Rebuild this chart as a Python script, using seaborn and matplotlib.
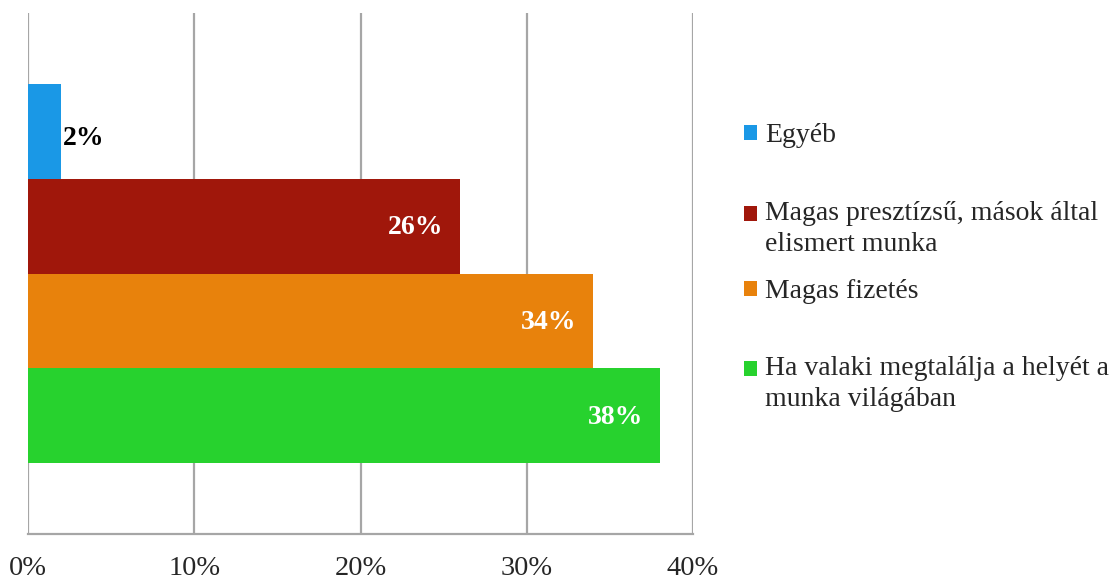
import matplotlib
matplotlib.use("Agg")
import matplotlib.pyplot as plt
import seaborn as sns
import pandas as pd
from matplotlib.patches import Patch, Rectangle
from matplotlib.legend_handler import HandlerPatch

categories = ["Egyéb",
              "Magas presztízsű, mások által\nelismert munka",
              "Magas fizetés",
              "Ha valaki megtalálja a helyét a\nmunka világában"]
values = [2, 26, 34, 38]
colors = ["#1a98e6", "#a0170b", "#e8820c", "#27d22e"]
xticks = [0, 10, 20, 30, 40]
xtick_labels = ["0%", "10%", "20%", "30%", "40%"]

sns.set_style("white")
plt.rcParams["font.family"] = ["Liberation Serif", "DejaVu Serif"]

df = pd.DataFrame({"cat": categories, "val": values})

fig = plt.figure(figsize=(11.1, 5.81), dpi=100)
ax = fig.add_axes([28 / 1110, 1 - 534 / 581, (693 - 28) / 1110, (534 - 13) / 581])

sns.barplot(data=df, x="val", y="cat", hue="cat", order=categories,
            hue_order=categories, palette=colors, width=1.0, dodge=False,
            legend=False, ax=ax, orient="h", saturation=1,
            edgecolor="none", linewidth=0)

ax.set_xlim(0, 40)
ax.set_ylim(len(categories) - 1 + 1.247, -1.247)
ax.set_xticks(xticks)
ax.set_xticklabels(xtick_labels, fontsize=20.5)
ax.set_yticks([])
ax.set_xlabel("")
ax.set_ylabel("")

grid_c = "#a6a6a6"
ax.grid(axis="x", color=grid_c, linewidth=1.6, zorder=0)
ax.set_axisbelow(True)
for s in ["top", "right", "left"]:
    ax.spines[s].set_visible(False)
ax.spines["bottom"].set_color(grid_c)
ax.spines["bottom"].set_linewidth(1.6)
ax.tick_params(axis="x", direction="out", length=6, width=1.6, color=grid_c,
               pad=10, labelsize=20.5)

# value labels
for i, v in enumerate(values):
    if v < 5:
        ax.annotate(f"{v}%", xy=(v, i), xytext=(1, -5), textcoords="offset points",
                    ha="left", va="center", fontsize=20, fontweight="bold",
                    color="black")
    else:
        ax.annotate(f"{v}%", xy=(v, i), xytext=(-12, -1), textcoords="offset points",
                    ha="right", va="center", fontsize=20, fontweight="bold",
                    color="white")


class TopHandler(HandlerPatch):
    """Square marker aligned with the first line of a multi-line label."""
    def __init__(self, shift=0.0, **kw):
        super().__init__(**kw)
        self.shift = shift

    def create_artists(self, legend, orig_handle, xdescent, ydescent,
                       width, height, fontsize, trans):
        p = Rectangle((-xdescent, -ydescent + self.shift), width, height,
                      facecolor=orig_handle.get_facecolor(), edgecolor="none",
                      transform=trans)
        return [p]


legend_centers = [136, 229, 292, 384]  # pixel rows of each legend entry
for cat, c, yc in zip(categories, colors, legend_centers):
    nlines = cat.count("\n") + 1
    shift = (nlines - 1) * 11.0
    h = Patch(facecolor=c, edgecolor="none")
    leg = fig.legend([h], [cat], loc="center left",
                     bbox_to_anchor=(744 / 1110, 1 - yc / 581), frameon=False,
                     fontsize=20, handlelength=0.47, handleheight=0.47,
                     handletextpad=0.3, borderpad=0, borderaxespad=0,
                     handler_map={Patch: TopHandler(shift=shift)})
    for t in leg.get_texts():
        t.set_linespacing(1.3)

fig.savefig("out.png", dpi=100)
